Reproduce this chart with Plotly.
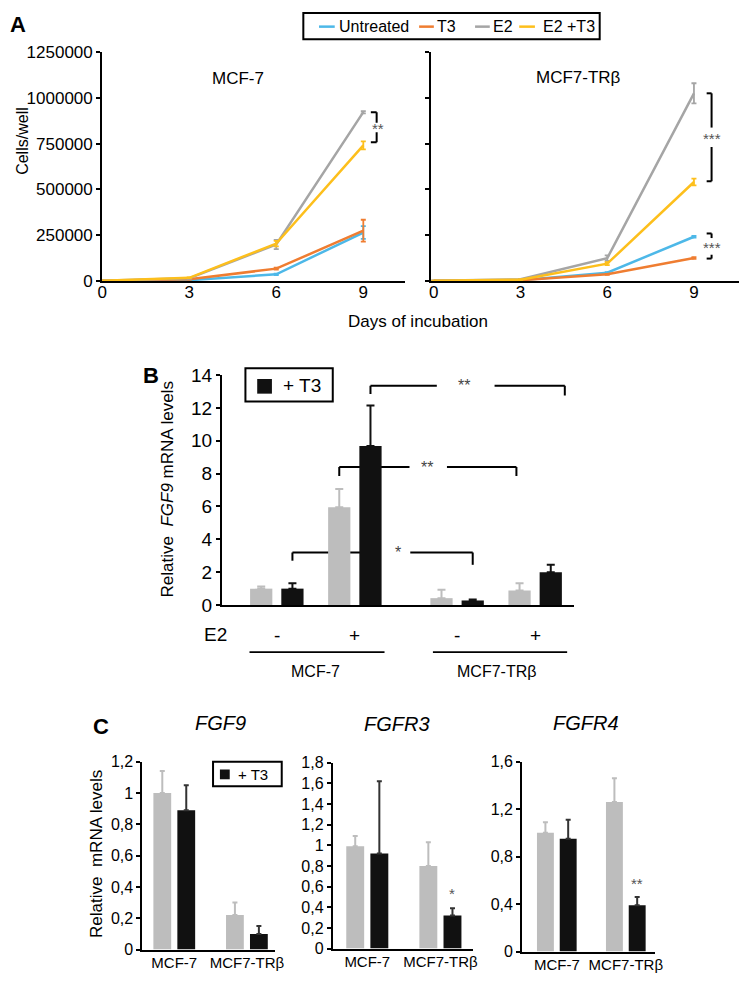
import plotly.graph_objects as go

W, H = 750, 987
FONT = "Liberation Sans, Arial, Helvetica, sans-serif"


def px(x):
    return x / W


def py(y):
    return 1 - y / H


# ---------------- Panel A data ----------------
days = [0, 3, 6, 9]
day_ticks = [0, 3, 6, 9]
cells_ticks = [0, 250000, 500000, 750000, 1000000, 1250000]
cells_tick_labels = ["0", "250000", "500000", "750000", "1000000", "1250000"]
series_names = ["Untreated", "T3", "E2", "E2 +T3"]
series_colors = ["#4db8e8", "#ef7d31", "#a5a5a5", "#fdbf1c"]

mcf7_untreated = [2000, 5000, 37000, 265000]
mcf7_t3 = [2000, 10000, 68000, 275000]
mcf7_e2 = [2000, 15000, 200000, 922000]
mcf7_e2t3 = [2000, 18000, 205000, 741000]
mcf7_untreated_err = [500, 1000, 4000, 35000]
mcf7_t3_err = [500, 2000, 5000, 60000]
mcf7_e2_err = [500, 2000, 25000, 6000]
mcf7_e2t3_err = [500, 2000, 15000, 22000]

trb_untreated = [2000, 5000, 46000, 242000]
trb_t3 = [2000, 5000, 37000, 126000]
trb_e2 = [2000, 10000, 125000, 1025000]
trb_e2t3 = [2000, 8000, 95000, 541000]
trb_untreated_err = [500, 1000, 3000, 5000]
trb_t3_err = [500, 1000, 3000, 5000]
trb_e2_err = [500, 2000, 15000, 55000]
trb_e2t3_err = [500, 1000, 8000, 18000]

# ---------------- Panel B data ----------------
b_positions = [1, 2, 3.31, 4.31]
b_e2_labels = ["-", "+", "-", "+"]
b_ticks = [0, 2, 4, 6, 8, 10, 12, 14]
b_ctrl = [1.0, 5.95, 0.42, 0.88]
b_ctrl_err = [0.13, 1.12, 0.51, 0.45]
b_t3 = [1.0, 9.68, 0.28, 2.0]
b_t3_err = [0.33, 2.46, 0.06, 0.46]

# ---------------- Panel C data ----------------
c_groups = ["MCF-7", "MCF7-TRβ"]
c_positions = [0, 1]
fgf9_ctrl = [1.0, 0.22]
fgf9_ctrl_err = [0.14, 0.08]
fgf9_t3 = [0.89, 0.10]
fgf9_t3_err = [0.16, 0.05]
fgfr3_ctrl = [0.99, 0.80]
fgfr3_ctrl_err = [0.10, 0.23]
fgfr3_t3 = [0.92, 0.32]
fgfr3_t3_err = [0.70, 0.07]
fgfr4_ctrl = [1.00, 1.26]
fgfr4_ctrl_err = [0.09, 0.20]
fgfr4_t3 = [0.95, 0.39]
fgfr4_t3_err = [0.16, 0.07]
fgf9_ticks = [0, 0.2, 0.4, 0.6, 0.8, 1.0, 1.2]
fgf9_tick_labels = ["0", "0,2", "0,4", "0,6", "0,8", "1", "1,2"]
fgfr3_ticks = [0, 0.2, 0.4, 0.6, 0.8, 1.0, 1.2, 1.4, 1.6, 1.8]
fgfr3_tick_labels = ["0", "0,2", "0,4", "0,6", "0,8", "1", "1,2", "1,4", "1,6", "1,8"]
fgfr4_ticks = [0, 0.4, 0.8, 1.2, 1.6]
fgfr4_tick_labels = ["0", "0,4", "0,8", "1,2", "1,6"]

GRAY = "#bdbdbd"
BLACK = "#111111"

fig = go.Figure()

# ---- Panel A traces
left_sets = [
    (mcf7_untreated, mcf7_untreated_err),
    (mcf7_t3, mcf7_t3_err),
    (mcf7_e2, mcf7_e2_err),
    (mcf7_e2t3, mcf7_e2t3_err),
]
right_sets = [
    (trb_untreated, trb_untreated_err),
    (trb_t3, trb_t3_err),
    (trb_e2, trb_e2_err),
    (trb_e2t3, trb_e2t3_err),
]
for (xa, ya, sets) in [("x", "y", left_sets), ("x2", "y2", right_sets)]:
    for name, color, (vals, errs) in zip(series_names, series_colors, sets):
        fig.add_trace(go.Scatter(
            x=days, y=vals, mode="lines", name=name,
            line=dict(color=color, width=2.5),
            error_y=dict(type="data", array=errs, color=color, thickness=1.8, width=2.5),
            xaxis=xa, yaxis=ya, showlegend=False,
        ))

# ---- Panel B traces
B_UNIT_W = 0.285
B_HALF = 0.2
fig.add_trace(go.Bar(
    x=b_positions, y=b_ctrl, width=B_UNIT_W, offset=-B_HALF - B_UNIT_W / 2,
    marker=dict(color=GRAY, line=dict(width=0)),
    error_y=dict(type="data", symmetric=False, array=b_ctrl_err, arrayminus=[0] * 4,
                 color=GRAY, thickness=2, width=4),
    xaxis="x3", yaxis="y3", showlegend=False, name="control",
))
fig.add_trace(go.Bar(
    x=b_positions, y=b_t3, width=B_UNIT_W, offset=B_HALF - B_UNIT_W / 2,
    marker=dict(color=BLACK, line=dict(width=0)),
    error_y=dict(type="data", symmetric=False, array=b_t3_err, arrayminus=[0] * 4,
                 color=BLACK, thickness=2, width=4),
    xaxis="x3", yaxis="y3", showlegend=False, name="+ T3",
))

# ---- Panel C traces
C_W = 0.245
C_HALF = 0.165
c_sets = [
    ("x4", "y4", fgf9_ctrl, fgf9_ctrl_err, fgf9_t3, fgf9_t3_err),
    ("x5", "y5", fgfr3_ctrl, fgfr3_ctrl_err, fgfr3_t3, fgfr3_t3_err),
    ("x6", "y6", fgfr4_ctrl, fgfr4_ctrl_err, fgfr4_t3, fgfr4_t3_err),
]
for xa, ya, ctrl, ctrl_err, t3, t3_err in c_sets:
    fig.add_trace(go.Bar(
        x=c_positions, y=ctrl, width=C_W, offset=-C_HALF - C_W / 2,
        marker=dict(color=GRAY, line=dict(width=0)),
        error_y=dict(type="data", symmetric=False, array=ctrl_err, arrayminus=[0, 0],
                     color=GRAY, thickness=2, width=2.5),
        xaxis=xa, yaxis=ya, showlegend=False, name="control",
    ))
    fig.add_trace(go.Bar(
        x=c_positions, y=t3, width=C_W, offset=C_HALF - C_W / 2,
        marker=dict(color=BLACK, line=dict(width=0)),
        error_y=dict(type="data", symmetric=False, array=t3_err, arrayminus=[0, 0],
                     color="#333333", thickness=2, width=2.5),
        xaxis=xa, yaxis=ya, showlegend=False, name="+ T3",
    ))


# ---------------- axes ----------------
def yax(top, bottom, rng, tickvals, ticktext, size, anchor, showlabels=True):
    return dict(
        domain=[py(bottom), py(top)], range=rng, anchor=anchor,
        showline=True, linecolor="black", linewidth=2,
        ticks="outside", ticklen=4, tickwidth=1.5, tickcolor="black",
        tickvals=tickvals, ticktext=ticktext, showticklabels=showlabels,
        showgrid=False, zeroline=False, fixedrange=True,
        tickfont=dict(size=size, color="black", family=FONT),
    )


def xax(left, right, rng, anchor, tickvals=None, ticktext=None, size=15, showlabels=True,
        standoff=0):
    d = dict(
        domain=[px(left), px(right)], range=rng, anchor=anchor,
        showline=True, linecolor="black", linewidth=2, ticks="",
        showgrid=False, zeroline=False, fixedrange=True,
        showticklabels=showlabels, ticklabelstandoff=standoff,
        tickfont=dict(size=size, color="black", family=FONT),
    )
    if tickvals is not None:
        d["tickvals"] = tickvals
        d["ticktext"] = ticktext
    return d


layout = dict(
    width=W, height=H, autosize=False,
    margin=dict(l=0, r=0, t=0, b=0),
    paper_bgcolor="white", plot_bgcolor="white",
    font=dict(family=FONT, color="black"),
    barmode="overlay", showlegend=False,
)

# A
layout["xaxis"] = xax(99, 408, [0, 10.45], "y", day_ticks, [str(d) for d in day_ticks], 17, standoff=-6)
layout["yaxis"] = yax(43, 277, [0, 1250000], cells_ticks, cells_tick_labels, 17, "x")
layout["xaxis2"] = xax(434, 748, [-0.1, 10.56], "y2", day_ticks, [str(d) for d in day_ticks], 17, standoff=-6)
layout["yaxis2"] = yax(43, 277, [0, 1250000], cells_ticks, cells_tick_labels, 17, "x2", showlabels=False)
# B
layout["xaxis3"] = xax(221, 580, [0.296, 4.81], "y3", showlabels=False)
layout["yaxis3"] = yax(373, 608, [0, 14], b_ticks, [str(t) for t in b_ticks], 19, "x3")
# C
layout["xaxis4"] = xax(140, 275, [-0.439, 1.385], "y4", c_positions, c_groups, 15, standoff=-2)
layout["yaxis4"] = yax(768, 960, [0, 1.2], fgf9_ticks, fgf9_tick_labels, 16, "x4")
layout["xaxis5"] = xax(334, 477, [-0.472, 1.447], "y5", c_positions, c_groups, 15, standoff=-2)
layout["yaxis5"] = yax(769, 959, [0, 1.8], fgfr3_ticks, fgfr3_tick_labels, 16, "x5")
layout["xaxis6"] = xax(527, 662, [-0.502, 1.418], "y6", c_positions, c_groups, 15, standoff=-2)
layout["yaxis6"] = yax(768, 962, [0, 1.6], fgfr4_ticks, fgfr4_tick_labels, 16, "x6")

fig.update_layout(**layout)

annotations = []
shapes = []


def ann(x, y, text, size=16, xanchor="center", yanchor="middle", color="black",
        angle=0, xref="paper", yref="paper", bold=False, italic=False):
    if bold:
        text = "<b>" + text + "</b>"
    if italic:
        text = "<i>" + text + "</i>"
    annotations.append(dict(
        x=x, y=y, xref=xref, yref=yref, text=text, showarrow=False,
        xanchor=xanchor, yanchor=yanchor, textangle=angle,
        font=dict(size=size, color=color, family=FONT),
    ))


def line(x0, y0, x1, y1, xref="paper", yref="paper", width=2, color="black", layer="above"):
    shapes.append(dict(type="line", x0=x0, y0=y0, x1=x1, y1=y1, xref=xref, yref=yref,
                       line=dict(color=color, width=width), layer=layer))


# ---- panel letters
ann(px(13), py(15), "A", size=22, bold=True)
ann(px(149), py(373), "B", size=22, bold=True)
ann(px(98), py(732), "C", size=22, bold=True)

# ---- Panel A texts
ann(px(17), py(134), "Cells/well", size=16, angle=-90)
ann(px(421), py(318), "Days of incubation", size=17)
ann(px(237), py(70), "MCF-7", size=17)
ann(px(584), py(69), "MCF7-TRβ", size=17)

# legend A
shapes.append(dict(type="rect", xref="paper", yref="paper",
                   x0=px(304), x1=px(606), y0=py(30), y1=py(3),
                   line=dict(color="black", width=2), fillcolor="white"))
legend_line_x = [(320, 336), (422, 437), (479, 494), (524, 540)]
legend_text_x = [338, 438, 495, 546]
for name, color, (lx0, lx1), tx in zip(series_names, series_colors, legend_line_x, legend_text_x):
    line(px(lx0), py(17), px(lx1), py(17), width=2.5, color=color)
    ann(px(tx), py(17), name, size=16, xanchor="left")


# significance brackets A (vertical)
def vbracket(xref, yref, x, xtick, ytop, ybot, gap_hi, gap_lo, text, tx, ty):
    line(x, ytop, x, gap_hi, xref, yref, width=2)
    line(x, gap_lo, x, ybot, xref, yref, width=2)
    line(xtick, ytop, x, ytop, xref, yref, width=2)
    line(xtick, ybot, x, ybot, xref, yref, width=2)
    ann(tx, ty, text, size=15, color="#555555", xref=xref, yref=yref)


vbracket("x", "y", 9.46, 9.26, 922000, 758000, 865000, 812000, "**", 9.49, 833000)
vbracket("x2", "y2", 9.61, 9.44, 1025000, 545000, 838000, 732000, "***", 9.64, 780000)
vbracket("x2", "y2", 9.61, 9.44, 260000, 123000, 235000, 144000, "***", 9.64, 184000)

# ---- Panel B texts
ann(px(166), py(490), "Relative  <i>FGF9</i> mRNA levels", size=17, angle=-90)
ann(px(214), py(638), "E2", size=19)
for pos, lab in zip(b_positions, b_e2_labels):
    ann(pos, py(639), lab, size=19, xref="x3")
line(0.65, py(656), 2.38, py(656), xref="x3", width=1.8)
line(3.0, py(656), 4.72, py(656), xref="x3", width=1.8)
ann(1.5, py(676), "MCF-7", size=16, xref="x3")
ann(3.81, py(676), "MCF7-TRβ", size=16, xref="x3")

# legend B
shapes.append(dict(type="rect", xref="paper", yref="paper",
                   x0=px(245), x1=px(334), y0=py(400), y1=py(366),
                   line=dict(color="black", width=2), fillcolor="white"))
shapes.append(dict(type="rect", xref="paper", yref="paper",
                   x0=px(257), x1=px(272), y0=py(392), y1=py(377),
                   line=dict(width=0), fillcolor=BLACK))
ann(px(281), py(384), "+ T3", size=19, xanchor="left")


# significance brackets B (horizontal, with gap for stars)
def hbracket(x0, x1, y, ytick0, ytick1, gap0, gap1, text, tx, layer):
    line(x0, y, gap0, y, "x3", "y3", width=2, layer=layer)
    line(gap1, y, x1, y, "x3", "y3", width=2, layer=layer)
    line(x0, y, x0, ytick0, "x3", "y3", width=2, layer=layer)
    line(x1, y, x1, ytick1, "x3", "y3", width=2, layer=layer)
    ann(tx, y, text, size=16, color="#444444", xref="x3", yref="y3")


hbracket(2.2, 4.69, 13.35, 12.85, 12.75, 3.05, 3.79, "**", 3.40, "above")
hbracket(1.8, 4.07, 8.4, 7.85, 7.85, 2.70, 3.18, "**", 2.92, "below")
hbracket(1.2, 3.51, 3.2, 2.7, 2.45, 2.33, 2.71, "*", 2.55, "below")

# ---- Panel C texts
ann(px(93), py(862), "Relative  mRNA levels", size=17, angle=-90)
ann(px(220), py(729), "FGF9", size=20, italic=True)
ann(px(399), py(730), "FGFR3", size=20, italic=True)
ann(px(592), py(729), "FGFR4", size=20, italic=True)
ann(1 + C_HALF, py(903), "*", size=15, color="#555555", xref="x5")
ann(1 + C_HALF, py(892), "**", size=15, color="#555555", xref="x6")

# legend C
shapes.append(dict(type="rect", xref="paper", yref="paper",
                   x0=px(212), x1=px(282), y0=py(793), y1=py(768),
                   line=dict(color="black", width=2), fillcolor="white"))
shapes.append(dict(type="rect", xref="paper", yref="paper",
                   x0=px(219), x1=px(229), y0=py(786), y1=py(776),
                   line=dict(width=0), fillcolor=BLACK))
ann(px(235), py(781), "+ T3", size=15, xanchor="left")

fig.update_layout(annotations=annotations, shapes=shapes)
fig.write_html(
    "out.html",
    config={"displayModeBar": False},
    post_script="document.body.style.margin='0';document.body.style.overflow='hidden';",
)
